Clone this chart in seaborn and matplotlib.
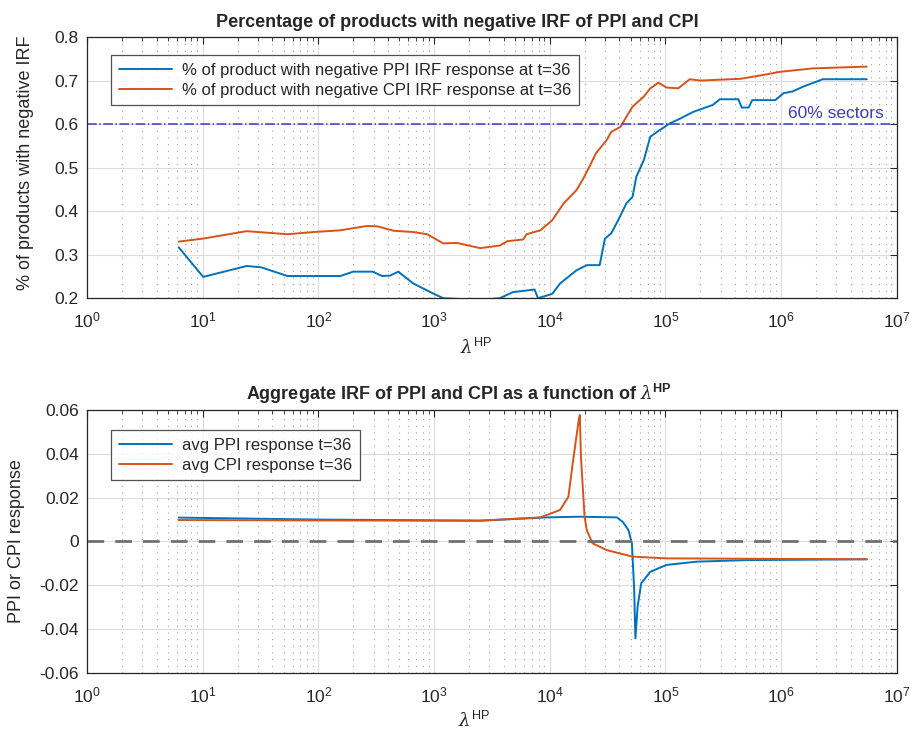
import numpy as np
import pandas as pd
import matplotlib
matplotlib.use('Agg')
import matplotlib.pyplot as plt
import seaborn as sns

# Top panel: share of products with negative IRF at t=36
ppi_share_lam = [6.2, 10.1, 24, 32, 54, 155, 200, 295, 355, 417, 490, 660, 980, 1200, 2500,
                 3700, 4800, 7400, 7900, 10500, 12300, 17000, 21000, 27000, 30000, 34000,
                 39000, 46000, 52000, 56000, 65000, 74000, 89000, 110000, 135000, 174000,
                 257000, 295000, 427000, 457000, 525000, 562000, 891000, 1050000, 1260000,
                 1550000, 2290000, 5500000]
ppi_share = [0.317, 0.249, 0.274, 0.271, 0.251, 0.251, 0.261, 0.261, 0.251, 0.252, 0.261,
             0.234, 0.211, 0.200, 0.196, 0.200, 0.214, 0.220, 0.200, 0.210, 0.234, 0.264,
             0.276, 0.276, 0.337, 0.349, 0.379, 0.418, 0.433, 0.479, 0.517, 0.571, 0.586,
             0.602, 0.613, 0.628, 0.644, 0.657, 0.657, 0.638, 0.638, 0.655, 0.655, 0.671,
             0.675, 0.686, 0.703, 0.703]

cpi_share_lam = [6.2, 10.1, 24, 54, 91, 155, 263, 324, 447, 660, 870, 1200, 1580, 2500, 3700,
                 4300, 5900, 6300, 8300, 10500, 13200, 17000, 19500, 22400, 25100, 31000,
                 34000, 41000, 46000, 52000, 65000, 74000, 87000, 102000, 129000, 162000,
                 200000, 447000, 708000, 977000, 1900000, 5500000]
cpi_share = [0.330, 0.337, 0.354, 0.347, 0.352, 0.356, 0.366, 0.365, 0.355, 0.352, 0.347,
             0.326, 0.327, 0.315, 0.321, 0.331, 0.335, 0.347, 0.356, 0.379, 0.418, 0.448,
             0.475, 0.506, 0.533, 0.563, 0.582, 0.594, 0.617, 0.640, 0.663, 0.682, 0.695,
             0.684, 0.682, 0.703, 0.700, 0.704, 0.713, 0.720, 0.728, 0.732]

# Bottom panel: aggregate responses
ppi_avg_lam = [6.2, 100, 2500, 9500, 18200, 38000, 42700, 47900, 51300, 53700, 55000, 57500,
               61700, 74100, 102000, 186000, 501000, 5500000]
ppi_avg = [0.0109, 0.0100, 0.0095, 0.0110, 0.0113, 0.0110, 0.0090, 0.0052, -0.0008, -0.0221,
           -0.0442, -0.0297, -0.0191, -0.0138, -0.0107, -0.0092, -0.0085, -0.0081]

cpi_avg_lam = [6.2, 100, 2500, 8300, 12300, 14500, 15800, 17800, 18200, 18600, 20000, 20900,
               23400, 31000, 52000, 102000, 5500000]
cpi_avg = [0.0098, 0.0096, 0.0095, 0.0110, 0.0144, 0.0204, 0.0357, 0.0554, 0.0577, 0.0387,
           0.0113, 0.0052, -0.0008, -0.0039, -0.0069, -0.0077, -0.0081]

BLUE = '#0072BD'
ORANGE = '#D95319'

sns.set_style('white')
plt.rcParams['font.family'] = ['Liberation Sans', 'DejaVu Sans']
plt.rcParams['mathtext.fontset'] = 'custom'
plt.rcParams['mathtext.rm'] = 'Liberation Sans'
plt.rcParams['mathtext.bf'] = 'Liberation Sans:bold'
plt.rcParams['mathtext.it'] = 'DejaVu Serif:italic'

fig = plt.figure(figsize=(9.15, 7.4), dpi=100)
ax1 = fig.add_axes([0.0951, 0.597, 0.885, 0.353])
ax2 = fig.add_axes([0.0951, 0.0905, 0.885, 0.3555])


def style_axis(ax):
    ax.set_xscale('log')
    ax.set_xlim(1, 1e7)
    ax.set_xticks([10.0 ** k for k in range(8)])
    ax.grid(True, which='major', color='#dcdcdc', linestyle='-', linewidth=0.8)
    ax.grid(True, which='minor', axis='x', color='#a0a0a0', linestyle=(0, (1, 5)),
            linewidth=0.8)
    ax.tick_params(which='both', direction='in', top=True, right=True, labelsize=12.5,
                   color='#262626')
    ax.tick_params(axis='x', which='major', pad=9)
    ax.tick_params(axis='y', which='major', pad=6)
    ax.tick_params(which='major', length=5, width=0.8)
    ax.tick_params(which='minor', length=3, width=0.6)
    for sp in ax.spines.values():
        sp.set_color('#262626')
        sp.set_linewidth(0.9)
    ax.set_axisbelow(True)


# ---- top panel
df_ppi = pd.DataFrame({'lam': ppi_share_lam, 'val': ppi_share})
df_cpi = pd.DataFrame({'lam': cpi_share_lam, 'val': cpi_share})
sns.lineplot(data=df_ppi, x='lam', y='val', ax=ax1, color=BLUE, linewidth=1.4, sort=False,
             label='% of product with negative PPI IRF response at t=36')
sns.lineplot(data=df_cpi, x='lam', y='val', ax=ax1, color=ORANGE, linewidth=1.4, sort=False,
             label='% of product with negative CPI IRF response at t=36')
ax1.axhline(0.6, color='#3a3ac8', linestyle='-.', linewidth=1.1)
ax1.text(3.0e6, 0.607, '60% sectors', color='#3a3ac8', fontsize=12.5, ha='center',
         va='bottom')
style_axis(ax1)
ax1.set_ylim(0.2, 0.8)
ax1.set_yticks([0.2, 0.3, 0.4, 0.5, 0.6, 0.7, 0.8])
ax1.set_title('Percentage of products with negative IRF of PPI and CPI', fontsize=13,
              fontweight='bold', pad=7, x=0.457)
ax1.set_xlabel(r'$\mathit{\lambda}^{\rm HP}$', fontsize=13, labelpad=6)
ax1.xaxis.set_label_coords(0.48, -0.15)
ax1.set_ylabel('% of products with negative IRF', fontsize=13)
ax1.yaxis.set_label_coords(-0.066, 0.52)
leg = ax1.legend(loc='upper left', fontsize=12, frameon=True, fancybox=False,
                 edgecolor='#262626', borderpad=0.45, handlelength=3.2, labelspacing=0.3,
                 handletextpad=0.6, bbox_to_anchor=(0.0198, 0.962))
leg.get_frame().set_linewidth(0.9)

# ---- bottom panel
df_ppi2 = pd.DataFrame({'lam': ppi_avg_lam, 'val': ppi_avg})
df_cpi2 = pd.DataFrame({'lam': cpi_avg_lam, 'val': cpi_avg})
sns.lineplot(data=df_ppi2, x='lam', y='val', ax=ax2, color=BLUE, linewidth=1.4, sort=False,
             label='avg PPI response t=36')
sns.lineplot(data=df_cpi2, x='lam', y='val', ax=ax2, color=ORANGE, linewidth=1.4, sort=False,
             label='avg CPI response t=36')
ax2.axhline(0.0, color='#707070', linestyle='--', linewidth=2, dashes=(6, 4))
style_axis(ax2)
ax2.set_ylim(-0.06, 0.06)
ax2.set_yticks([-0.06, -0.04, -0.02, 0, 0.02, 0.04, 0.06])
ax2.set_yticklabels(['-0.06', '-0.04', '-0.02', '0', '0.02', '0.04', '0.06'])
ax2.set_title(r'Aggregate IRF of PPI and CPI as a function of $\mathit{\lambda}^{\bf HP}$',
              fontsize=13, fontweight='bold', pad=7, x=0.459)
ax2.set_xlabel(r'$\mathit{\lambda}^{\rm HP}$', fontsize=13, labelpad=6)
ax2.xaxis.set_label_coords(0.478, -0.145)
ax2.set_ylabel('PPI or CPI response', fontsize=13)
ax2.yaxis.set_label_coords(-0.076, 0.5)
leg2 = ax2.legend(loc='upper left', fontsize=12, frameon=True, fancybox=False,
                  edgecolor='#262626', borderpad=0.45, handlelength=3.2, labelspacing=0.3,
                  handletextpad=0.6, bbox_to_anchor=(0.0198, 0.955))
leg2.get_frame().set_linewidth(0.9)

fig.savefig('out.png', dpi=100)
